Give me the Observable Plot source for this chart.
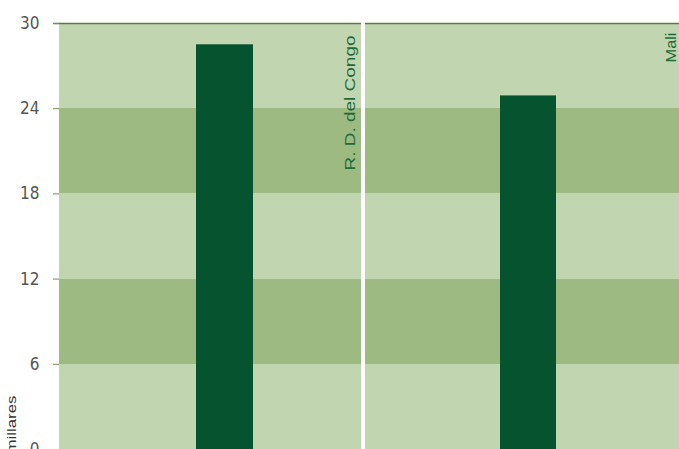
<!DOCTYPE html>
<html><head><meta charset="utf-8">
<script src="https://cdn.jsdelivr.net/npm/d3@7"></script>
<script src="https://cdn.jsdelivr.net/npm/@observablehq/plot@0.6"></script>
<style>body{margin:0;overflow:hidden;background:#fff}</style>
</head><body><div id="chart"></div>
<script>
const countries = ["R. D. del Congo", "Mali"];
const values = [28.5, 24.9];
const yTicks = [0, 6, 12, 18, 24, 30];
const bandShades = ["light", "dark", "light", "dark", "light"];
const unitLabel = "millares";

const bars = countries.map((c, i) => ({country: c, value: values[i]}));
const bands = countries.flatMap(c => yTicks.slice(0, -1).map((lo, i) => ({country: c, lo, hi: yTicks[i + 1], shade: bandShades[i]})));
const topRows = countries.map(c => ({country: c, y: yTicks[yTicks.length - 1]}));

const LIGHT = "#c1d5b0", DARK = "#9dba82", BAR = "#05532f", LABEL = "#1e6b38", TICK = "#6e9450", TOP = "#5a7d3e";
const isFirst = d => d.country === countries[0];
const isLast = d => d.country === countries[countries.length - 1];
const labelFont = "Liberation Sans, Arial, sans-serif";

const plot = Plot.plot({
  width: 679, height: 449,
  marginLeft: 59, marginRight: 12, marginTop: 23, marginBottom: 0,
  style: {background: "white", fontFamily: labelFont, overflow: "visible"},
  fx: {domain: countries, paddingInner: 0.0131, paddingOuter: 0, axis: null},
  y: {domain: [0, 30], axis: null},
  color: {domain: ["light", "dark"], range: [LIGHT, DARK]},
  marks: [
    Plot.rect(bands, {filter: isFirst, fx: "country", y1: "lo", y2: "hi", fill: "shade", shapeRendering: "crispEdges"}),
    Plot.rect(bands, {filter: isLast, fx: "country", y1: "lo", y2: "hi", fill: "shade", insetRight: -12, shapeRendering: "crispEdges"}),
    Plot.ruleY(topRows, {filter: isFirst, fx: "country", y: "y", stroke: TOP, strokeWidth: 1.5, insetLeft: -6}),
    Plot.ruleY(topRows, {filter: isLast, fx: "country", y: "y", stroke: TOP, strokeWidth: 1.5, insetRight: -12}),
    Plot.barY(bars, {filter: isFirst, fx: "country", y: "value", fill: BAR, insetLeft: 137, insetRight: 108}),
    Plot.barY(bars, {filter: isLast, fx: "country", y: "value", fill: BAR, insetLeft: 135, insetRight: 111}),
    Plot.axisY({ticks: yTicks, tickSize: 6, tickPadding: 14, stroke: TICK, fill: "#555", fontSize: 17,
      fontFamily: "Liberation Sans Narrow, DejaVu Sans Condensed, Arial Narrow, sans-serif", label: null}),
    Plot.text(bars, {filter: isFirst, fx: "country", text: "country", frameAnchor: "top-right", rotate: -90,
      textAnchor: "end", dx: -16, dy: 12, fill: LABEL, fontSize: 14}),
    Plot.text(bars, {filter: isLast, fx: "country", text: "country", frameAnchor: "top-right", rotate: -90,
      textAnchor: "end", dx: -1, dy: 9, fill: LABEL, fontSize: 14}),
    Plot.text([unitLabel], {fx: [countries[0]], text: d => d, frameAnchor: "bottom-left", rotate: -90,
      textAnchor: "start", dx: -44, dy: 4, fill: "#333", fontSize: 13})
  ]
});

const stretch = {[countries[0]]: 135, [countries[1]]: 30, [unitLabel]: 58};
d3.select(plot).selectAll("text").each(function() {
  const t = this.textContent;
  if (stretch[t]) d3.select(this).attr("textLength", stretch[t]).attr("lengthAdjust", "spacingAndGlyphs");
});
document.getElementById("chart").append(plot);
</script>
</body></html>
